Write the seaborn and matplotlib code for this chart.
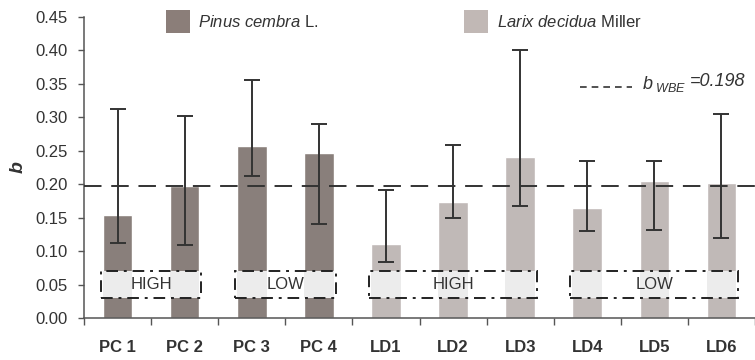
import matplotlib
matplotlib.use("Agg")
import matplotlib.pyplot as plt
from matplotlib.patches import Rectangle
from matplotlib.lines import Line2D
import seaborn as sns
import pandas as pd
import numpy as np

# Mean b per stand with lower/upper bounds
stands = ["PC 1", "PC 2", "PC 3", "PC 4", "LD1", "LD2", "LD3", "LD4", "LD5", "LD6"]
species = ["Pinus", "Pinus", "Pinus", "Pinus", "Larix", "Larix", "Larix", "Larix", "Larix", "Larix"]
b_mean = [0.154, 0.197, 0.257, 0.246, 0.110, 0.174, 0.241, 0.164, 0.205, 0.202]
b_low = [0.112, 0.109, 0.212, 0.141, 0.084, 0.150, 0.168, 0.130, 0.132, 0.119]
b_high = [0.313, 0.302, 0.356, 0.290, 0.191, 0.259, 0.401, 0.235, 0.235, 0.305]
b_wbe = 0.198

# Site groups: (first stand index, last stand index, label)
groups = [(0, 1, "HIGH"), (2, 3, "LOW"), (4, 6, "HIGH"), (7, 9, "LOW")]
band_low, band_high = 0.03, 0.07

dark = "#8b7e79"
light = "#c1b8b5"
ink = "#333333"

sns.set_theme(style="white")
plt.rcParams["font.family"] = ["Liberation Sans", "DejaVu Sans"]
plt.rcParams["mathtext.fontset"] = "custom"
plt.rcParams["mathtext.it"] = "Liberation Sans:italic"
plt.rcParams["mathtext.rm"] = "Liberation Sans:italic"
plt.rcParams["hatch.color"] = "#cfcfcf"
plt.rcParams["hatch.linewidth"] = 0.6

df = pd.DataFrame({"stand": stands, "species": species, "b": b_mean})

fig = plt.figure(figsize=(7.55, 3.6), dpi=100)
ax = fig.add_axes([84 / 755, 1 - 318 / 360, 1 - 84 / 755, (318 - 17) / 360])

bw = 0.44
sns.barplot(data=df, x="stand", y="b", hue="species", order=stands,
            palette={"Pinus": dark, "Larix": light}, dodge=False,
            width=bw, errorbar=None, legend=False, ax=ax, zorder=2)

x = np.arange(len(stands))
mean = np.array(b_mean)
yerr = [mean - np.array(b_low), np.array(b_high) - mean]
ax.errorbar(x, mean, yerr=yerr, fmt="none", ecolor=ink, elinewidth=1.4,
            capsize=6, capthick=1.4, zorder=5)

ax.axhline(b_wbe, color=ink, lw=1.4, dashes=(9, 5), zorder=4)

# Site elevation bands
pad = 0.25
for i0, i1, lab in groups:
    left, right = i0 - pad, i1 + pad
    ax.add_patch(Rectangle((left, band_low), right - left, band_high - band_low,
                           facecolor="white", edgecolor="none", zorder=3))
    for i in range(i0, i1 + 1):
        ax.add_patch(Rectangle((i - bw / 2, band_low), bw, band_high - band_low,
                               facecolor="#ececec", edgecolor="none",
                               hatch="++++", lw=0, zorder=3.1))
    ax.add_patch(Rectangle((left, band_low), right - left, band_high - band_low,
                           facecolor="none", edgecolor="#222222", lw=1.4,
                           linestyle=(0, (6, 3, 1.5, 3)), zorder=3.2))
    ax.text((left + right) / 2, (band_low + band_high) / 2, lab, ha="center",
            va="center", fontsize=12, color=ink, zorder=3.3)

ax.set_xlim(-0.5, len(stands) - 0.5)
ax.set_ylim(0, 0.45)
ax.set_yticks(np.arange(0, 0.451, 0.05))
ax.set_yticklabels([f"{v:.2f}" for v in np.arange(0, 0.451, 0.05)], fontsize=12, color=ink)
ax.set_xticks(x)
ax.set_xticklabels(stands, fontsize=12, fontweight="bold", color=ink)
ax.set_xticks(np.arange(-0.5, len(stands)), minor=True)
ax.tick_params(axis="x", which="major", length=0, pad=16)
ax.tick_params(axis="x", which="minor", length=5, width=1, color="#555555", direction="out", bottom=True)
ax.tick_params(axis="y", length=4, width=1, color="#555555", direction="out", left=True, pad=8)
ax.set_xlabel("")
ax.set_ylabel("b", fontsize=14, fontweight="bold", fontstyle="italic", color=ink, labelpad=6)

for side in ("top", "right"):
    ax.spines[side].set_visible(False)
for side in ("left", "bottom"):
    ax.spines[side].set_color("#555555")
    ax.spines[side].set_linewidth(1.1)

# Species key
def key_patch(x0, color):
    fig.patches.append(Rectangle((x0 / 755, 1 - 33 / 360), 24 / 755, 23 / 360,
                                 transform=fig.transFigure, facecolor=color,
                                 edgecolor="none", figure=fig))

key_patch(166, dark)
fig.text(198 / 755, 1 - 22 / 360, r"$Pinus\ cembra$ L.", fontsize=12,
         va="center", ha="left", color=ink)
key_patch(464, light)
fig.text(497 / 755, 1 - 22 / 360, r"$Larix\ decidua$ Miller", fontsize=12,
         va="center", ha="left", color=ink)

# Reference-line key
fig.add_artist(Line2D([580 / 755, 632 / 755], [1 - 87 / 360, 1 - 87 / 360],
                      transform=fig.transFigure, color=ink, lw=1.2, dashes=(4, 3)))
fig.text(642 / 755, 1 - 84 / 360, r"$b_{\ WBE}$", fontsize=13,
         va="center", ha="left", color=ink)
fig.text(690 / 755, 1 - 82 / 360, f"={b_wbe:.3f}", fontsize=13, fontstyle="italic",
         va="center", ha="left", color=ink)

fig.savefig("out.png", dpi=100)
